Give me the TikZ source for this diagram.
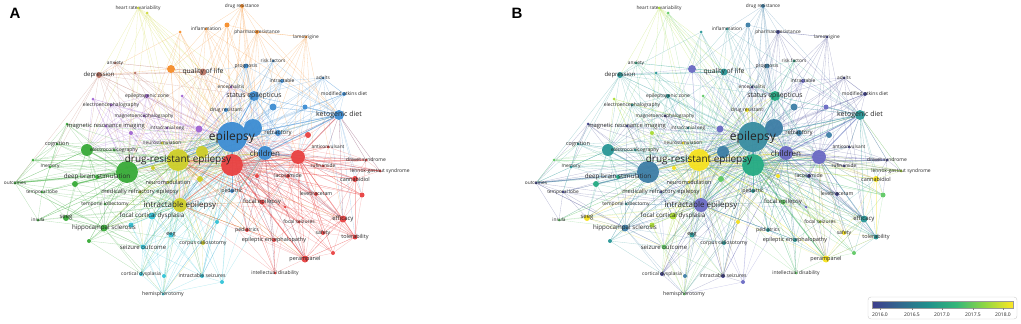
\documentclass[tikz,border=0pt]{standalone}
\usepackage{fontspec}
\setmainfont{Open Sans}
\newfontfamily\panelfont{Liberation Sans}
\usetikzlibrary{backgrounds}

% cluster colours (panel A)
\definecolor{cred}{RGB}{232,64,64}
\definecolor{cgreen}{RGB}{55,170,55}
\definecolor{cblue}{RGB}{60,140,210}
\definecolor{cyellow}{RGB}{205,205,40}
\definecolor{cpurple}{RGB}{160,100,210}
\definecolor{ccyan}{RGB}{50,195,215}
\definecolor{corange}{RGB}{245,140,40}
\definecolor{cbrown}{RGB}{185,115,100}
\definecolor{clime}{RGB}{205,215,60}
% year colours (panel B)
\definecolor{vnavy}{RGB}{62,64,140}
\definecolor{vpurple}{RGB}{105,105,195}
\definecolor{vsteel}{RGB}{60,125,165}
\definecolor{vepi}{RGB}{55,140,160}
\definecolor{vteal}{RGB}{40,150,150}
\definecolor{vgteal}{RGB}{35,170,130}
\definecolor{vgreen}{RGB}{95,200,100}
\definecolor{vlime}{RGB}{170,220,50}
\definecolor{vyellow}{RGB}{245,225,30}
\definecolor{v0}{RGB}{62,62,140}
\definecolor{v1}{RGB}{49,104,142}
\definecolor{v2}{RGB}{33,145,140}
\definecolor{v3}{RGB}{53,183,121}
\definecolor{v4}{RGB}{144,215,67}
\definecolor{v5}{RGB}{253,231,37}
\pgfdeclarehorizontalshading{yearbar}{100bp}{color(0bp)=(v0); color(25bp)=(v0); color(35bp)=(v1); color(45bp)=(v2); color(55bp)=(v3); color(65bp)=(v4); color(75bp)=(v5); color(100bp)=(v5)}

\tikzset{
  dot/.style={circle, inner sep=0pt, draw=none, fill opacity=0.95},
  kw/.style={inner sep=0pt, text=black!85},
  link/.style={line width=0.3pt, draw opacity=0.35},
  hublink/.style={line width=1.1pt, draw opacity=0.35},
  panel/.style={font=\panelfont\bfseries\fontsize{15}{15}\selectfont}
}

% name/x/y/radius/cluster colour/year colour
\def\dotlist{hrv/138/8/1.5/clime/vlime, hrv2/147/13/1.5/clime/vgreen,
  drugres/242/6/2/corange/vsteel, orn1/227/25/2.5/corange/vsteel,
  inflam/206/29/1.5/corange/vteal, orn2/180/32/1.5/corange/vteal,
  pharma/257/32/2/corange/vnavy, lamo/306/37/1.5/corange/vnavy,
  risk/273/61/1.5/cblue/vgteal, progn/246/66/2.5/cblue/vsteel,
  intr/282/81/2/cblue/vpurple, adults/323/78/1.5/cblue/vnavy,
  matk/344/94/2/cblue/vnavy, status/254/96/5/cblue/vgteal,
  qol/203/72/3.5/cbrown/vteal, orn3/171/69/4/corange/vpurple,
  anx/115/63/1.5/cbrown/vgteal, brn2/135/73/1.5/cbrown/vteal,
  depr/99/75/3/cbrown/vteal, enceph/231/87/1.5/cpurple/vnavy,
  ezone/147/96/2/cpurple/vteal, pur1/93/99/1.5/cpurple/vlime,
  pur2/182/96/1.5/cpurple/vgreen, eeg1/111/105/1.5/cpurple/vteal,
  meg/144/116/1.5/cpurple/vnavy, drgr/226/110/2/cblue/vyellow,
  mri/106/126/1.5/cpurple/vnavy, grn1/67/124/1.5/cgreen/vnavy,
  ieeg/167/128/1.5/cpurple/vteal, pur3/199/129/3.5/cpurple/vpurple,
  pur4/131/133/2/cpurple/vlime, blu2/253/128/9/cblue/vsteel,
  epilepsy/232/137/15/cblue/vepi, cogn/57/144/1.5/cgreen/vteal,
  ecog/87/150/6/cgreen/vteal, ecogl/114/150/1.5/cgreen/vteal,
  nstim/162/143/1.5/cyellow/vyellow, yel2/202/152/6/cyellow/vsteel,
  dre/178/160/11/cyellow/vyellow, red1/232/165/11/cred/vgteal,
  grn3/33/160/1.5/cgreen/vgreen, memory/50/167/1.5/cgreen/vteal,
  grn4/127/172/11/cgreen/vsteel, dbs/97/177/2/cgreen/vgteal,
  grn5/75/184/3/cgreen/vgteal, outc/15/183/1.5/cgreen/vnavy,
  nmod/168/182/1.5/cyellow/vyellow, yel3/200/179/3/cyellow/vgreen,
  yel4/153/168/2/cyellow/vyellow, tlobe/42/192/1.5/cgreen/vnavy,
  mre/140/192/1.5/cyellow/vpurple, pedc/232/191/2/cblue/vteal,
  ie/180/205/7/cyellow/vpurple, fepi/262/202/2.5/cred/vgreen,
  tlobect/105/204/1.5/cgreen/vteal, keto/339/115/5/cblue/vteal,
  blu3/273/107/3.5/cblue/vsteel, blu4/305/107/2.5/cblue/vpurple,
  refr/278/133/3/cblue/vsteel, red2/308/135/3/cred/vsteel,
  antic/328/147/1.5/cred/vnavy, child/265/153/7/cblue/vpurple,
  red3/298/157/7/cred/vpurple, rufi/323/166/1.5/cred/vnavy,
  dravet/366/160/1.5/cred/vnavy, lgs/380/171/1.5/cred/vlime,
  cbd/355/179/3/cred/vyellow, laco/288/176/2/cred/vnavy,
  red4/257/176/2/cred/vyellow, leve/316/194/2/cred/vnavy,
  red5/362/195/2.5/cred/vgreen, red6/285/207/1.5/cred/vpurple,
  insula/38/220/1.5/cgreen/vgreen, seeg/66/218/3/cgreen/vyellow,
  hs/104/228/3.5/cgreen/vsteel, grn6/89/241/2/cgreen/vteal,
  fcd/152/216/3.5/ccyan/vlime, cyn1/131/225/2.5/ccyan/vlime,
  eeg/171/235/2.5/ccyan/vteal, cyn2/217/222/2/ccyan/vyellow,
  so/143/247/2.5/ccyan/vgreen, cc/203/243/2/cyellow/vteal,
  peds/247/230/2/cred/vteal, ee/274/240/2/cred/vteal,
  cd/141/274/2/ccyan/vnavy, cyn3/164/276/2/ccyan/vsteel,
  is/202/276/2/ccyan/vnavy, cyn4/222/282/2/ccyan/vpurple,
  hemi/163/294/1.5/ccyan/vgreen, id/275/273/1.5/cred/vgreen,
  fs/299/222/1.5/cred/vlime, eff/343/219/3.5/cred/vteal,
  safety/323/233/2/cred/vyellow, tol/355/237/2.5/cred/vteal,
  red7/333/253/2/cred/vgreen, peram/305/259/3.5/cred/vyellow}

% name/font size/text
\def\labellist{hrv/4.8/heart rate variability, drugres/4.8/drug resistance,
  inflam/4.8/inflammation, pharma/4.8/pharmacoresistance, lamo/4.8/lamotrigine,
  risk/4.8/risk factors, progn/5/prognosis, intr/5/intractable, adults/4.8/adults,
  matk/5/modified atkins diet, status/6.8/status epilepticus, qol/6.8/quality of life,
  anx/4.8/anxiety, depr/6/depression, enceph/4.8/encephalitis, ezone/5/epileptogenic zone,
  eeg1/5/electroencephalography, meg/4.8/magnetoencephalography, drgr/5/drug resistant,
  mri/5.8/magnetic resonance imaging, ieeg/4.8/intracranial eeg, epilepsy/12/epilepsy,
  cogn/5.5/cognition, ecogl/5/electrocorticography, nstim/4.8/neurostimulation,
  dre/10/drug-resistant epilepsy, memory/4.8/memory, dbs/6.3/deep brain stimulation,
  outc/4.8/outcomes, nmod/5.5/neuromodulation, tlobe/4.8/temporal lobe,
  mre/5.8/medically refractory epilepsy, pedc/5.2/pediatric, ie/8/intractable epilepsy,
  fepi/6/focal epilepsy, tlobect/5/temporal lobectomy, keto/7/ketogenic diet,
  refr/6/refractory, antic/4.8/anticonvulsant, child/8/children, rufi/4.8/rufinamide,
  dravet/5/dravet syndrome, lgs/5/lennox-gastaut syndrome, cbd/5.5/cannabidiol,
  laco/5.2/lacosamide, leve/5.2/levetiracetam, insula/4.8/insula, seeg/6/seeg,
  hs/6.2/hippocampal sclerosis, fcd/6.2/focal cortical dysplasia, eeg/5.5/eeg,
  so/6/seizure outcome, cc/5.2/corpus callosotomy, peds/5.2/pediatrics,
  ee/5.5/epileptic encephalopathy, cd/5/cortical dysplasia, is/5.2/intractable seizures,
  hemi/5.2/hemispherotomy, id/5/intellectual disability, fs/5/focal seizures,
  eff/6/efficacy, safety/5.2/safety, tol/5.5/tolerability, peram/5.5/perampanel}

% source/{targets}
\def\edgelist{hrv/{epilepsy,dre,red1,grn4,depr,anx,qol,ie,child,status,hrv2},
  hrv2/{epilepsy,dre,grn4,red1,qol,ecog},
  drugres/{epilepsy,dre,orn1,pharma,inflam,status,red1,child,progn,ie,blu2,keto},
  orn1/{epilepsy,dre,red1,qol,status,child,orn3,pharma,ie},
  inflam/{epilepsy,dre,status,red1,orn3,keto,child,qol},
  orn2/{epilepsy,dre,orn3,qol,depr,grn4,red1},
  pharma/{epilepsy,dre,red1,child,status,keto,red3,ie,lamo,intr},
  lamo/{epilepsy,red1,red3,child,leve,laco,dre,eff,pharma},
  risk/{epilepsy,status,dre,progn,child,red1,keto},
  progn/{epilepsy,status,dre,red1,child,qol,ie,keto,blu2},
  intr/{epilepsy,status,child,keto,dre,red1,adults,blu3},
  adults/{epilepsy,keto,status,child,red3,blu2,matk,eff,red1},
  matk/{keto,epilepsy,child,red3,blu2,dre,adults,refr},
  status/{epilepsy,blu2,dre,red1,child,keto,refr,red3,ie,qol,blu3},
  qol/{epilepsy,dre,red1,depr,anx,orn3,status,child,ie,grn4,ecog},
  orn3/{epilepsy,dre,red1,ie,grn4,depr,child,status},
  anx/{depr,epilepsy,dre,red1,qol,grn4,ecog},
  brn2/{depr,epilepsy,dre,qol,red1,grn4},
  depr/{epilepsy,dre,red1,grn4,ecog,ie,cogn,memory,qol,child,status,outc},
  enceph/{epilepsy,status,child,red1,dre,red3,ie},
  ezone/{epilepsy,dre,grn4,ecog,ie,pur3,meg,mri,eeg1,red1},
  pur1/{epilepsy,dre,grn4,ecog,ie,pur3,mri},
  pur2/{epilepsy,dre,red1,pur3,ie,child},
  eeg1/{epilepsy,dre,grn4,ecog,ie,red1,mri},
  meg/{epilepsy,dre,grn4,ie,mri,ieeg,pur3},
  drgr/{epilepsy,dre,red1,child,status,blu2},
  mri/{epilepsy,dre,grn4,ecog,ie,red1,fcd,hs},
  grn1/{epilepsy,dre,grn4,ecog,cogn,memory,ie,outc},
  ieeg/{epilepsy,dre,grn4,ecog,ie,pur3,red1},
  pur3/{epilepsy,dre,red1,grn4,ie,child,yel2},
  pur4/{epilepsy,dre,grn4,ecog,ie},
  epilepsy/{blu2,dre,red1,child,ie,grn4,keto,status,red3,yel2,refr,blu3,fepi,peds,ee,peram,eff,cc,fcd,hs,so,is},
  blu2/{dre,red1,child,keto,red3,refr,ie,blu3},
  cogn/{epilepsy,dre,grn4,ecog,memory,outc,tlobe,red1,ie},
  ecog/{epilepsy,dre,grn4,ie,red1,grn5,seeg,hs,tlobect,memory,outc},
  ecogl/{epilepsy,dre,grn4,ie,ecog},
  nstim/{epilepsy,dre,grn4,ie,red1,yel4,nmod},
  dre/{red1,yel2,child,ie,grn4,red3,keto,status,fcd,hs,so,cc,peram,eff,ee,peds,fepi,mre,nmod,is,cd,hemi},
  yel2/{red1,ie,child,grn4,red3},
  red1/{child,red3,ie,grn4,keto,laco,leve,peram,eff,safety,tol,fs,fepi,peds,ee,id,cbd,dravet,lgs,rufi,antic,red5,red7,red4,red6},
  grn3/{epilepsy,dre,grn4,ecog,memory,outc,cogn},
  memory/{epilepsy,dre,grn4,ecog,outc,tlobe,red1,ie},
  grn4/{ie,red1,grn5,hs,seeg,tlobect,so,fcd,insula,tlobe,outc,child,mre,nmod,cc,grn6,eeg,dbs},
  dbs/{epilepsy,dre,grn4,ie,outc,ecog},
  grn5/{epilepsy,dre,ie,red1,hs,seeg},
  outc/{epilepsy,dre,grn4,ie,red1,tlobe,insula,hs,so},
  nmod/{epilepsy,ie,red1,child,yel3},
  yel3/{epilepsy,dre,red1,ie,child},
  yel4/{epilepsy,dre,ie,red1},
  tlobe/{epilepsy,dre,ie,hs,insula,seeg,tlobect},
  mre/{epilepsy,ie,red1,child,hs,fcd,so},
  pedc/{epilepsy,dre,red1,child,ie,red3},
  ie/{red1,child,fcd,hs,so,cc,eeg,cd,is,hemi,peds,ee,red3,fepi,cyn2,tlobect},
  fepi/{epilepsy,dre,red1,ie,red3,laco,peram,eff,fs,tol},
  tlobect/{epilepsy,dre,ie,hs,so,seeg},
  keto/{epilepsy,child,red3,red1,dre,status,blu3,blu4,refr,dravet,lgs,cbd,eff,tol,red5,antic},
  blu3/{epilepsy,child,red1,keto,dre,status},
  blu4/{epilepsy,child,red3,keto,red1},
  refr/{epilepsy,child,red1,red3,keto,dre,status},
  red2/{epilepsy,red1,red3,child,keto,dre},
  antic/{epilepsy,red1,red3,child,keto,dravet,rufi},
  child/{red3,ie,keto,red1,peds,ee,cbd,dravet,lgs,laco,leve,peram,eff,id,is,cc,hemi},
  red3/{red1,child,keto,laco,leve,peram,eff,tol,safety,cbd,dravet,lgs,rufi,red5,ie,fs,red7},
  rufi/{red1,red3,child,lgs,dravet,epilepsy,dre},
  dravet/{red1,red3,child,cbd,lgs,keto,epilepsy,dre,red5},
  lgs/{red1,red3,child,cbd,keto,epilepsy,dre,rufi},
  cbd/{red1,red3,child,dre,epilepsy,red5,eff,tol,safety},
  laco/{epilepsy,dre,red1,red3,leve,peram,eff,tol,ie},
  red4/{epilepsy,dre,red1,child,ie},
  leve/{epilepsy,dre,red1,red3,peram,eff,tol,safety},
  red5/{epilepsy,red1,red3,eff,tol,child,dre},
  red6/{epilepsy,dre,red1,ie,peram},
  insula/{epilepsy,dre,grn4,ie,seeg,hs},
  seeg/{epilepsy,dre,grn4,ie,hs,fcd,so},
  hs/{epilepsy,dre,ie,so,fcd,cc,cd,hemi,red1,seeg},
  grn6/{epilepsy,dre,grn4,ie,hs,so,cd},
  fcd/{epilepsy,dre,red1,ie,child,so,cd,hemi,eeg,is},
  cyn1/{epilepsy,dre,ie,fcd,so,hemi},
  eeg/{epilepsy,dre,red1,ie,child,so,cc,is},
  cyn2/{epilepsy,dre,ie,child,red1,is},
  so/{epilepsy,dre,ie,cd,hemi,is,red1,child},
  cc/{epilepsy,dre,ie,red1,child,is,hemi},
  peds/{epilepsy,dre,red1,child,ie,red3,peram,ee},
  ee/{epilepsy,dre,red1,child,red3,ie,peram,id,cbd},
  cd/{epilepsy,dre,ie,hemi,child,red1},
  cyn3/{epilepsy,dre,ie,hemi,so,child},
  is/{epilepsy,dre,ie,red1,child,hemi,cyn4},
  cyn4/{epilepsy,dre,ie,red1,child,red3,hemi},
  hemi/{epilepsy,dre,ie,child,red1},
  id/{epilepsy,dre,red1,child,red3,ie,ee,peram},
  fs/{epilepsy,dre,red1,red3,peram,eff,laco},
  eff/{epilepsy,dre,red1,red3,child,tol,safety,peram,keto,red7},
  safety/{epilepsy,dre,red1,red3,child,eff,tol,peram},
  tol/{epilepsy,dre,red1,red3,eff,peram,red7},
  red7/{epilepsy,dre,red1,red3,peram},
  peram/{epilepsy,dre,red1,red3,child,ie,eff,tol}}

% strong links
\def\hublist{epilepsy/dre, epilepsy/red1, epilepsy/child, epilepsy/blu2, epilepsy/ie,
  epilepsy/grn4, epilepsy/keto, epilepsy/status, dre/red1, dre/grn4, dre/ie, dre/yel2,
  red1/child, red1/red3, child/red3, child/keto, grn4/ecog, grn4/outc, grn4/grn5,
  red1/ie, red3/keto, dre/child, red1/peram}

\begin{document}
\begin{tikzpicture}[x=1pt,y=-1pt]
  \useasboundingbox (0,0) rectangle (1021,324);

  % panel A: clusters
  \node[panel] (labA) at (15,13) {A};
  \foreach \n/\x/\y/\rad/\ca/\cb in \dotlist {
    \node[dot, minimum size={2*\rad pt}, fill=\ca] (a-\n) at (\x,\y) {};
    \expandafter\xdef\csname ca@\n\endcsname{\ca}
    \expandafter\xdef\csname cb@\n\endcsname{\cb}
  }
  \foreach \n/\fs/\txt in \labellist
    \node[kw, font=\fontsize{\fs}{\fs}\selectfont] (a-\n-t) at (a-\n) {\txt};
  \begin{scope}[on background layer]
    \foreach \src/\tgts in \edgelist {
      \edef\ecol{\csname ca@\src\endcsname}
      \foreach \tgt in \tgts
        \draw[link, color=\ecol] (a-\src) -- (a-\tgt);
    }
    \foreach \src/\tgt in \hublist {
      \edef\ecol{\csname ca@\src\endcsname}
      \draw[hublink, color=\ecol] (a-\src) -- (a-\tgt);
    }
  \end{scope}

  % panel B: average year
  \node[panel] (labB) at (517,13) {B};
  \begin{scope}[xshift=521pt]
    \foreach \n/\x/\y/\rad/\ca/\cb in \dotlist
      \node[dot, minimum size={2*\rad pt}, fill=\cb] (b-\n) at (\x,\y) {};
    \foreach \n/\fs/\txt in \labellist
      \node[kw, font=\fontsize{\fs}{\fs}\selectfont] (b-\n-t) at (b-\n) {\txt};
    \begin{scope}[on background layer]
      \foreach \src/\tgts in \edgelist {
        \edef\ecol{\csname cb@\src\endcsname}
        \foreach \tgt in \tgts
          \draw[link, color=\ecol] (b-\src) -- (b-\tgt);
      }
      \foreach \src/\tgt in \hublist {
        \edef\ecol{\csname cb@\src\endcsname}
        \draw[hublink, color=\ecol] (b-\src) -- (b-\tgt);
      }
    \end{scope}
  \end{scope}

  % colour scale
  \draw[black!20, fill=white, rounded corners=3pt] (868,297) rectangle (1017,319);
  \shade[shading=yearbar, draw=black!40, line width=0.3pt] (872,301) rectangle (1013,308);
  \foreach \v/\px in {2016.0/880, 2016.5/912, 2017.0/942, 2017.5/973, 2018.0/1003} {
    \draw[black!50, line width=0.3pt] (\px,308) -- (\px,310);
    \node[kw, font=\fontsize{5}{5}\selectfont] (tick-\px) at (\px,314.5) {\v};
  }
\end{tikzpicture}
\end{document}
